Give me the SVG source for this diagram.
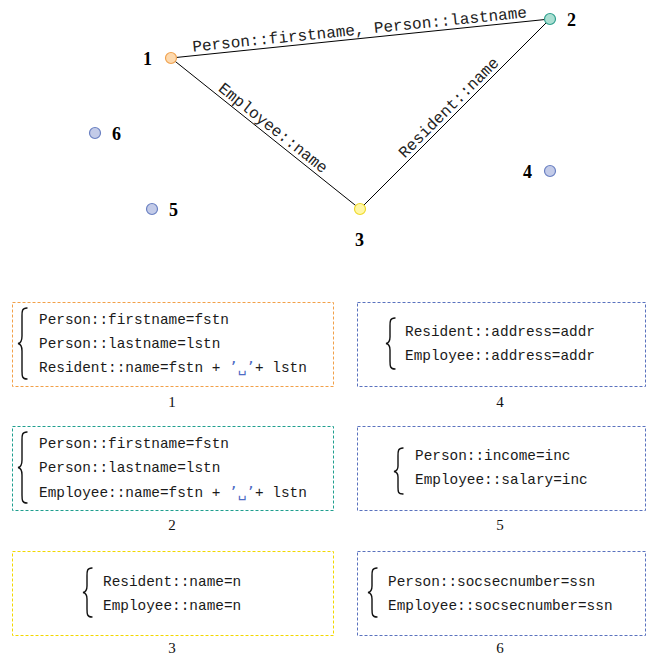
<svg xmlns="http://www.w3.org/2000/svg" width="651" height="660" viewBox="0 0 651 660">
  <style>
    .edge { stroke: #000; stroke-width: 1; fill: none; }
    .elabel { font-family: "Liberation Mono", "DejaVu Sans Mono", monospace; font-size: 16px; fill: #222; text-anchor: middle; }
    .nlabel { font-family: "Liberation Serif", "DejaVu Serif", serif; font-size: 18px; font-weight: bold; fill: #000; }
    .box { fill: none; stroke-width: 1; stroke-dasharray: 3 2; }
    .code { font-family: "Liberation Mono", "DejaVu Sans Mono", monospace; font-size: 14.4px; fill: #1a1a1a; }
    .sp { fill: #4f6cc4; font-family: "DejaVu Sans Mono", "Liberation Mono", monospace; }
    .brace { fill: none; stroke: #111; stroke-width: 1.4; stroke-linecap: round; }
    .cap { font-family: "Liberation Serif", "DejaVu Serif", serif; font-size: 15px; fill: #111; text-anchor: middle; }
    .orange { fill: #fdd9ae; stroke: #f0a24f; }
    .teal { fill: #aadfd2; stroke: #2f9f8d; }
    .yellow { fill: #fff7a6; stroke: #efd92c; }
    .blue { fill: #c3cbe8; stroke: #6a80c2; }
  </style>

  <!-- connectors -->
  <g id="edges">
    <line class="edge" x1="171" y1="58" x2="550" y2="19"/>
    <line class="edge" x1="171" y1="58" x2="360" y2="209"/>
    <line class="edge" x1="360" y1="209" x2="550" y2="19"/>
    <text class="elabel" transform="translate(360.5 38.5) rotate(-5.88)" y="-4">Person::firstname, Person::lastname</text>
    <text class="elabel" transform="translate(267.5 135) rotate(38.6)" y="-4">Employee::name</text>
    <text class="elabel" transform="translate(455 114) rotate(-45)" y="-4">Resident::name</text>
  </g>

  <!-- graph nodes -->
  <g id="node1">
    <circle class="orange" cx="171" cy="58" r="5.5" stroke-width="1.2"/>
    <text class="nlabel" x="143" y="65">1</text>
  </g>
  <g id="node2">
    <circle class="teal" cx="550" cy="19" r="5.5" stroke-width="1.2"/>
    <text class="nlabel" x="567" y="26">2</text>
  </g>
  <g id="node3">
    <circle class="yellow" cx="360" cy="209" r="5.5" stroke-width="1.2"/>
    <text class="nlabel" x="355" y="246">3</text>
  </g>
  <g id="node4">
    <circle class="blue" cx="550" cy="171" r="5.5" stroke-width="1.2"/>
    <text class="nlabel" x="523" y="178">4</text>
  </g>
  <g id="node5">
    <circle class="blue" cx="152" cy="209" r="5.5" stroke-width="1.2"/>
    <text class="nlabel" x="169" y="216">5</text>
  </g>
  <g id="node6">
    <circle class="blue" cx="95" cy="133" r="5.5" stroke-width="1.2"/>
    <text class="nlabel" x="112" y="140">6</text>
  </g>

  <!-- constraint boxes -->
  <g id="box1">
    <rect class="box" x="12.5" y="302.5" width="321" height="84" stroke="#f2a048"/>
    <path class="brace" d="M27,308 C22,308 22,311 22,316 L22,336 C22,341 21,343 18,343.5 C21,344 22,346 22,351 L22,371 C22,376 22,379 27,379"/>
    <text class="code" x="39" y="324">Person::firstname=fstn</text>
    <text class="code" x="39" y="348">Person::lastname=lstn</text>
    <text class="code" x="39" y="372">Resident::name=fstn + <tspan class="sp">’␣’</tspan>+ lstn</text>
    <text class="cap" x="172" y="407">1</text>
  </g>
  <g id="box4">
    <rect class="box" x="357.5" y="302.5" width="288" height="84" stroke="#5a72be"/>
    <path class="brace" d="M395,318 C390,318 390,321 390,326 L390,337 C390,341 389,343 386,343.5 C389,344 390,346 390,350 L390,361 C390,366 390,369 395,369"/>
    <text class="code" x="405" y="336">Resident::address=addr</text>
    <text class="code" x="405" y="360">Employee::address=addr</text>
    <text class="cap" x="500" y="407">4</text>
  </g>
  <g id="box2">
    <rect class="box" x="12.5" y="426.5" width="321" height="84" stroke="#1f9f8f"/>
    <path class="brace" d="M27,432 C22,432 22,435 22,440 L22,460 C22,465 21,467 18,467.5 C21,468 22,470 22,475 L22,495 C22,500 22,503 27,503"/>
    <text class="code" x="39" y="448">Person::firstname=fstn</text>
    <text class="code" x="39" y="472">Person::lastname=lstn</text>
    <text class="code" x="39" y="497">Employee::name=fstn + <tspan class="sp">’␣’</tspan>+ lstn</text>
    <text class="cap" x="172" y="530">2</text>
  </g>
  <g id="box5">
    <rect class="box" x="357.5" y="426.5" width="288" height="84" stroke="#5a72be"/>
    <path class="brace" d="M403,448 C398,448 398,451 398,456 L398,466 C398,469 397,471 394,471.5 C397,472 398,474 398,477 L398,487 C398,492 398,494 403,494"/>
    <text class="code" x="415" y="460">Person::income=inc</text>
    <text class="code" x="415" y="484">Employee::salary=inc</text>
    <text class="cap" x="500" y="530">5</text>
  </g>
  <g id="box3">
    <rect class="box" x="12.5" y="551.5" width="321" height="84" stroke="#f2d800" stroke-width="1.3"/>
    <path class="brace" d="M92,568 C87,568 87,571 87,576 L87,586 C87,590 86,592 83,592.5 C86,593 87,595 87,599 L87,609 C87,614 87,617 92,617"/>
    <text class="code" x="103" y="586">Resident::name=n</text>
    <text class="code" x="103" y="610">Employee::name=n</text>
    <text class="cap" x="172" y="653">3</text>
  </g>
  <g id="box6">
    <rect class="box" x="357.5" y="551.5" width="288" height="84" stroke="#5a72be"/>
    <path class="brace" d="M377,568 C372,568 372,571 372,576 L372,586 C372,590 371,592 368,592.5 C371,593 372,595 372,599 L372,609 C372,614 372,617 377,617"/>
    <text class="code" x="388" y="586">Person::socsecnumber=ssn</text>
    <text class="code" x="388" y="610">Employee::socsecnumber=ssn</text>
    <text class="cap" x="500" y="653">6</text>
  </g>
</svg>
